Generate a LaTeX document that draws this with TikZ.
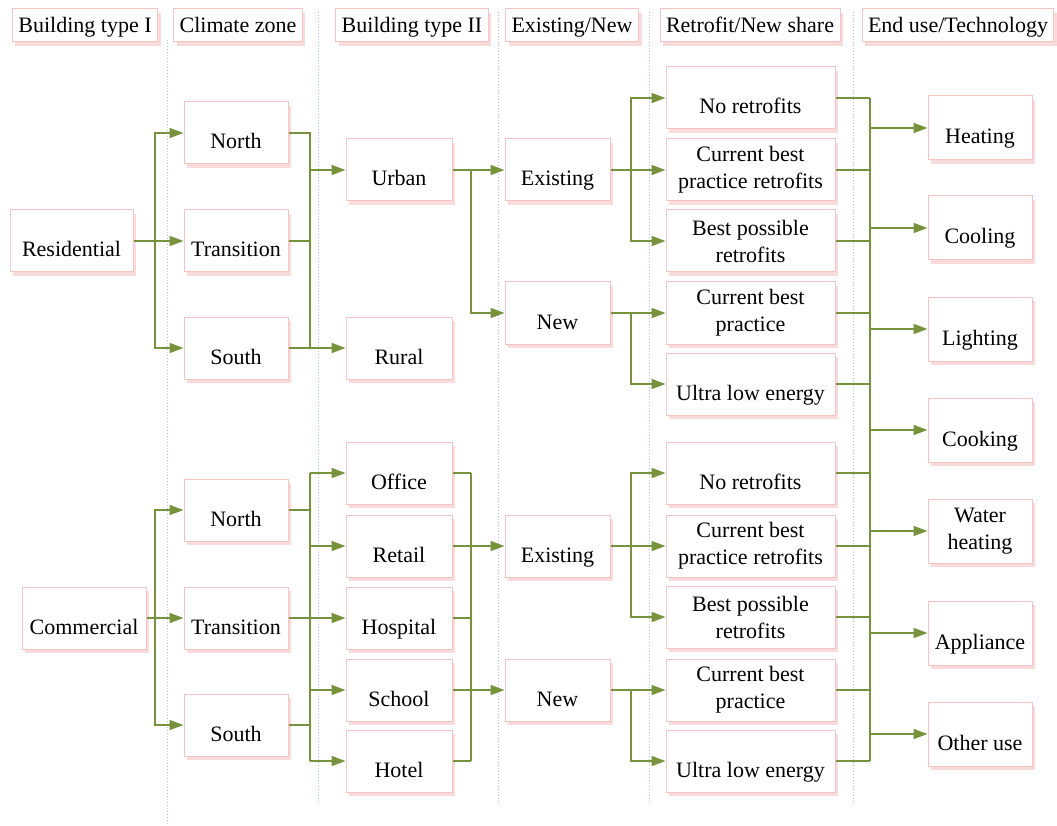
\documentclass[tikz,border=0pt]{standalone}
\usepackage{fontspec}
\setmainfont{Liberation Serif}
\usetikzlibrary{arrows.meta,shadows}
\definecolor{olv}{RGB}{118,146,60}
\definecolor{pnk}{RGB}{245,195,195}
\definecolor{dotc}{RGB}{170,198,235}

\begin{document}
\begin{tikzpicture}[x=1pt,y=-1pt]
	\tikzstyle{bx}=[draw=pnk,fill=white,line width=1pt,drop shadow={shadow xshift=3pt,shadow yshift=-4pt,fill=pnk,opacity=.6},minimum height=62pt,inner sep=2pt,font=\fontsize{22}{27}\selectfont,align=center]
	\tikzstyle{lo}=[text height=38pt,text depth=6pt]
	\tikzstyle{tw}=[]
	\tikzstyle{hd}=[bx,minimum height=33pt,inner xsep=6pt,text height=20pt,text depth=5pt]
	\tikzstyle{ln}=[draw=olv,line width=1.6pt]
	\tikzstyle{ar}=[ln,-{Triangle[length=14pt,width=10pt]}]
	\useasboundingbox (0,0) rectangle (1057,826);
	% column separators
	\foreach \x/\a/\b in {167/40/826,318/12/803,498/12/803,649/12/803,853/12/803}
		\draw[dotc,line width=1pt,dotted] (\x,\a) -- (\x,\b);
	% headers
	\node[hd] (h1) at (85,25.5) {Building type I};
	\node[hd] (h2) at (238,25.5) {Climate zone};
	\node[hd] (h3) at (412,25.5) {Building type II};
	\node[hd] (h4) at (572,25.5) {Existing/New};
	\node[hd] (h5) at (750,25.5) {Retrofit/New share};
	\node[hd] (h6) at (958,25.5) {End use/Technology};
	% boxes
	\node[bx,lo,minimum width=123pt] (res) at (71.5,241) {Residential};
	\node[bx,lo,minimum width=124pt] (com) at (84,618) {Commercial};
	\foreach \n/\y/\t in {n1/133/North,t1/241/Transition,s1/348/South,n2/510/North,t2/618/Transition,s2/725/South}
		\node[bx,lo,minimum width=104pt] (\n) at (236,\y) {\t};
	\foreach \n/\y/\t in {urb/170/Urban,rur/348/Rural,off/473/Office,ret/546/Retail,hos/618/Hospital,sch/690/School,hot/761/Hotel}
		\node[bx,lo,minimum width=106pt] (\n) at (399,\y) {\t};
	\foreach \n/\y/\t in {ex1/170/Existing,nw1/313/New,ex2/546/Existing,nw2/690/New}
		\node[bx,lo,minimum width=105pt] (\n) at (557.5,\y) {\t};
	\foreach \i/\y/\s/\t in {1/98/lo/No retrofits,2/170/tw/{Current best\\practice retrofits},3/241/tw/{Best possible\\retrofits},4/313/tw/{Current best\\practice},5/384/lo/Ultra low energy,6/473/lo/No retrofits,7/546/tw/{Current best\\practice retrofits},8/617/tw/{Best possible\\retrofits},9/690/tw/{Current best\\practice},10/761/lo/Ultra low energy}
		\node[bx,\s,minimum width=169pt] (r\i) at (750.5,\y) {\t};
	\foreach \i/\y/\s/\t in {1/128/lo/Heating,2/228/lo/Cooling,3/329/lo/Lighting,4/430/lo/Cooking,5/531/tw/{Water\\heating},6/633/lo/Appliance,7/734/lo/Other use}
		\node[bx,\s,minimum width=104pt,minimum height=64pt] (e\i) at (980,\y) {\t};
	% buses
	\coordinate (b1) at (155,0);
	\coordinate (b2) at (310,0);
	\coordinate (b3) at (471,0);
	\coordinate (b4) at (631,0);
	\coordinate (b5) at (870,0);
	% building type I -> climate zone
	\foreach \t in {n1,t1,s1}
		\draw[ar] (res.east) -| (b1|-\t) -- (\t);
	\foreach \t in {n2,t2,s2}
		\draw[ar] (com.east) -| (b1|-\t) -- (\t);
	% climate zone -> building type II
	\foreach \s in {n1,t1,s1}
		\draw[ln] (\s) -| (b2|-urb);
	\draw[ar] (b2|-urb) -- (urb);
	\draw[ar] (s1) -- (rur);
	\foreach \s in {n2,t2,s2}
		\draw[ln] (\s) -- (b2|-\s);
	\draw[ln] (b2|-off) -- (b2|-hot);
	\foreach \b in {off,ret,hos,sch,hot}
		\draw[ar] (b2|-\b) -- (\b);
	% building type II -> existing/new
	\draw[ar] (urb) -- (ex1);
	\draw[ar] (urb.east) -| (b3|-nw1) -- (nw1);
	\foreach \b in {off,ret,hos,sch,hot}
		\draw[ln] (\b) -- (b3|-\b);
	\draw[ln] (b3|-off) -- (b3|-hot);
	\draw[ar] (b3|-ex2) -- (ex2);
	\draw[ar] (b3|-nw2) -- (nw2);
	% existing/new -> share
	\foreach \r in {r1,r2,r3}
		\draw[ar] (ex1.east) -| (b4|-\r) -- (\r);
	\foreach \r in {r4,r5}
		\draw[ar] (nw1.east) -| (b4|-\r) -- (\r);
	\foreach \r in {r6,r7,r8}
		\draw[ar] (ex2.east) -| (b4|-\r) -- (\r);
	\foreach \r in {r9,r10}
		\draw[ar] (nw2.east) -| (b4|-\r) -- (\r);
	% share -> end use
	\foreach \i in {1,...,10}
		\draw[ln] (r\i) -- (b5|-r\i);
	\draw[ln] (b5|-r1) -- (b5|-r10);
	\foreach \i in {1,...,7}
		\draw[ar] (b5|-e\i) -- (e\i);
\end{tikzpicture}
\end{document}
